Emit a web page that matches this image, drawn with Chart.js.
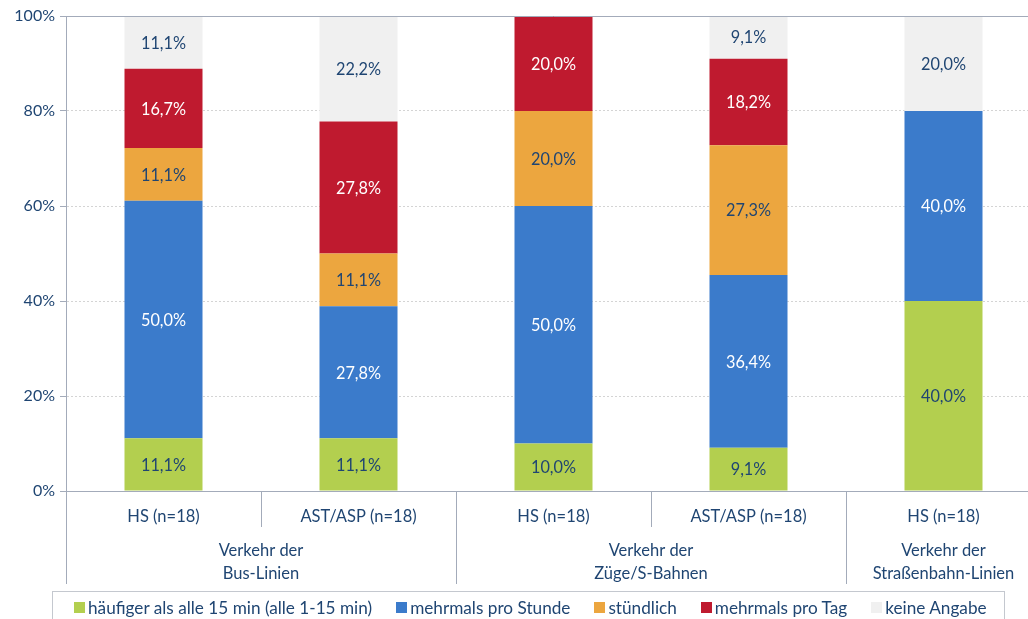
<!DOCTYPE html>
<html>
<head>
<meta charset="utf-8">
<script src="https://cdn.jsdelivr.net/npm/chart.js@4"></script>
<style>
  html, body { margin: 0; padding: 0; background: #fff; overflow: hidden; }
  #wrap { position: relative; width: 1028px; height: 619px; overflow: hidden; }
  #legend {
    position: absolute; left: 52px; top: 591px; width: 953px; height: 32px;
    border: 1px solid #c4c8cf; box-sizing: border-box; padding-left: 21px;
    display: flex; align-items: center; justify-content: flex-start; gap: 24px;
    font-family: Lato, "Noto Sans", sans-serif; font-size: 17.2px; color: #1f4572;
  }
  #legend span.item { display: flex; align-items: center; white-space: nowrap; }
  #legend span.sw { display: inline-block; width: 11px; height: 11px; margin-right: 3px; }
</style>
</head>
<body>
<div id="wrap">
  <canvas id="chart" width="1041" height="619"></canvas>
  <div id="legend"></div>
</div>
<script>
// categories (first level) and groups (second level)
const categories = ['HS (n=18)', 'AST/ASP (n=18)', 'HS (n=18)', 'AST/ASP (n=18)', 'HS (n=18)'];
const groups = [
    { from: 0, to: 1, lines: ['Verkehr der', 'Bus-Linien'] },
    { from: 2, to: 3, lines: ['Verkehr der', 'Züge/S-Bahnen'] },
    { from: 4, to: 4, lines: ['Verkehr der', 'Straßenbahn-Linien'] }
];

// series values in percent
const haeufiger = [11.1, 11.1, 10.0, 9.1, 40.0];
const mehrmalsStunde = [50.0, 27.8, 50.0, 36.4, 40.0];
const stuendlich = [11.1, 11.1, 20.0, 27.3, 0];
const mehrmalsTag = [16.7, 27.8, 20.0, 18.2, 0];
const keineAngabe = [11.1, 22.2, 0, 9.1, 20.0];

const yTicks = [0, 20, 40, 60, 80, 100];

const textColor = '#1f4572';
const lineColor = '#a3abba';
const fontFamily = 'Lato, "Noto Sans", sans-serif';

const series = [
    { label: 'häufiger als alle 15 min (alle 1-15 min)', data: haeufiger, color: '#b3cf4f', text: textColor },
    { label: 'mehrmals pro Stunde', data: mehrmalsStunde, color: '#3b7bcb', text: '#ffffff' },
    { label: 'stündlich', data: stuendlich, color: '#eca63f', text: textColor },
    { label: 'mehrmals pro Tag', data: mehrmalsTag, color: '#bf1a2f', text: '#ffffff' },
    { label: 'keine Angabe', data: keineAngabe, color: '#f0f0f0', text: textColor }
];

// Values written inside each segment
const segmentLabels = {
    id: 'segmentLabels',
    afterDatasetsDraw(chart) {
        const ctx = chart.ctx;
        ctx.save();
        ctx.font = '16.3px ' + fontFamily;
        ctx.textAlign = 'center';
        ctx.textBaseline = 'middle';
        chart.data.datasets.forEach((ds, di) => {
            const meta = chart.getDatasetMeta(di);
            meta.data.forEach((bar, i) => {
                const v = ds.data[i];
                if (!v) return;
                const yMid = (bar.y + bar.base) / 2;
                ctx.fillStyle = series[di].text;
                ctx.fillText(v.toFixed(1).replace('.', ',') + '%', bar.x, yMid + 1);
            });
        });
        ctx.restore();
    }
};

// Two-level category axis with separator lines
const multiLevelAxis = {
    id: 'multiLevelAxis',
    afterDraw(chart) {
        const ctx = chart.ctx;
        const x = chart.scales.x;
        const area = chart.chartArea;
        const half = (x.getPixelForValue(1) - x.getPixelForValue(0)) / 2;
        ctx.save();

        // top frame line at 100%
        ctx.strokeStyle = lineColor;
        ctx.lineWidth = 1;
        ctx.beginPath();
        ctx.moveTo(area.left, Math.round(area.top) + 0.5);
        ctx.lineTo(area.right, Math.round(area.top) + 0.5);
        ctx.stroke();

        // separators
        const bottom = Math.round(area.bottom);
        for (let b = 0; b <= categories.length; b++) {
            const px = Math.round(x.getPixelForValue(b) - half) + 0.5;
            const isGroupEdge = groups.some(g => g.from === b) || b === categories.length;
            ctx.beginPath();
            ctx.moveTo(px, bottom);
            ctx.lineTo(px, isGroupEdge ? 584 : 527);
            ctx.stroke();
        }

        ctx.font = '16.5px ' + fontFamily;
        ctx.fillStyle = textColor;
        ctx.textAlign = 'center';
        ctx.textBaseline = 'middle';
        categories.forEach((c, i) => {
            ctx.fillText(c, x.getPixelForValue(i), 517);
        });
        groups.forEach(g => {
            const cx = (x.getPixelForValue(g.from) + x.getPixelForValue(g.to)) / 2;
            g.lines.forEach((line, li) => {
                ctx.fillText(line, cx, 551 + li * 23);
            });
        });
        ctx.restore();
    }
};

const ctx = document.getElementById('chart').getContext('2d');
const chart = new Chart(ctx, {
    type: 'bar',
    data: {
        labels: categories,
        datasets: series.map(s => ({
            label: s.label,
            data: s.data,
            backgroundColor: s.color,
            borderWidth: 0,
            barPercentage: 0.4,
            categoryPercentage: 1.0
        }))
    },
    options: {
        responsive: false,
        animation: false,
        layout: { padding: { top: 16, right: 0, left: 0, bottom: 0 } },
        plugins: {
            legend: { display: false },
            tooltip: { enabled: false }
        },
        scales: {
            x: {
                stacked: true,
                ticks: { display: false },
                grid: { display: false, drawTicks: false },
                border: { display: true, color: lineColor, width: 1 },
                afterFit(scale) { scale.height = 128; }
            },
            y: {
                stacked: true,
                min: 0,
                max: 100,
                afterBuildTicks(scale) {
                    scale.ticks = yTicks.map(v => ({ value: v }));
                },
                ticks: {
                    color: textColor,
                    font: { family: fontFamily, size: 16 },
                    padding: 5,
                    callback: v => v + '%'
                },
                grid: {
                    color: '#d4d4d4',
                    tickColor: lineColor,
                    tickLength: 6
                },
                border: { display: true, color: lineColor, width: 1, dash: [2, 2] },
                afterFit(scale) { scale.width = 66; }
            }
        }
    },
    plugins: [segmentLabels, multiLevelAxis]
});

// HTML legend with the bordered box
const legend = document.getElementById('legend');
series.forEach(s => {
    const item = document.createElement('span');
    item.className = 'item';
    const sw = document.createElement('span');
    sw.className = 'sw';
    sw.style.background = s.color;
    item.appendChild(sw);
    item.appendChild(document.createTextNode(s.label));
    legend.appendChild(item);
});
</script>
</body>
</html>
